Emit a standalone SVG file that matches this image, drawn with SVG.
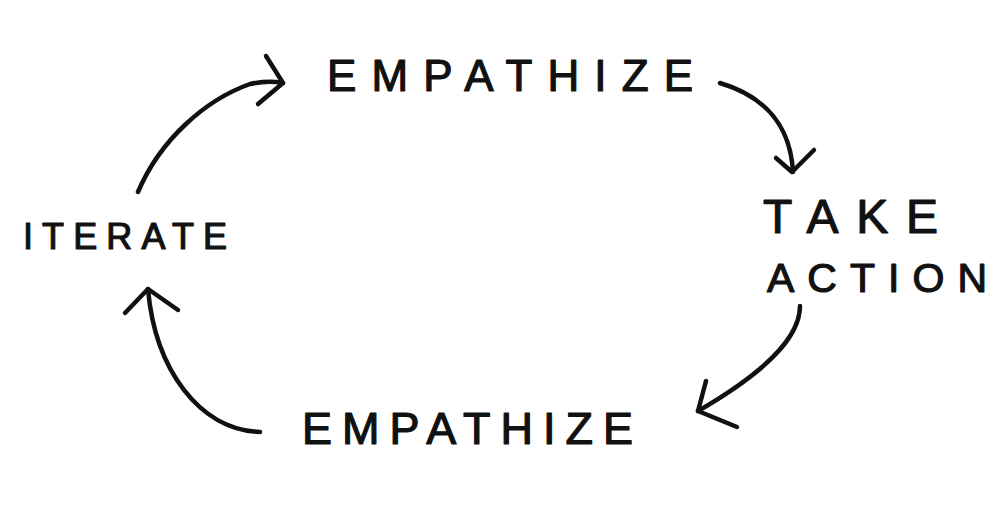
<svg xmlns="http://www.w3.org/2000/svg" width="1000" height="511" viewBox="0 0 1000 511">
  <style>
    .lbl { font-family: "Liberation Sans", "DejaVu Sans", sans-serif; fill: #111; stroke: #111; stroke-width: 1.2; stroke-linejoin: round; }
    .ln { fill: none; stroke: #111; stroke-width: 4.5; stroke-linecap: round; stroke-linejoin: round; }
  </style>
  <rect width="1000" height="511" fill="#ffffff"/>
  <g id="node-empathize-top">
    <text class="lbl" x="327" y="91" font-size="44" textLength="366" lengthAdjust="spacing">EMPATHIZE</text>
  </g>
  <g id="node-take-action">
    <text class="lbl" x="763" y="233" font-size="48" textLength="175" lengthAdjust="spacing">TAKE</text>
    <text class="lbl" x="767" y="292" font-size="41" textLength="220" lengthAdjust="spacing">ACTION</text>
  </g>
  <g id="node-empathize-bottom">
    <text class="lbl" x="302" y="444" font-size="45" textLength="331" lengthAdjust="spacing">EMPATHIZE</text>
  </g>
  <g id="node-iterate">
    <text class="lbl" x="23" y="249" font-size="36" textLength="204" lengthAdjust="spacing">ITERATE</text>
  </g>
  <g id="connectors">
    <path class="ln" d="M138 192 C 160 140, 205 100, 250 84 Q 268 80 283 83"/>
    <path class="ln" d="M266 56 L 283 83 L 258 104"/>
    <path class="ln" d="M720 83 C 760 95, 790 120, 793 172"/>
    <path class="ln" d="M776 158 L 792 172 L 814 150"/>
    <path class="ln" d="M800 306 C 800 340, 760 375, 698 411"/>
    <path class="ln" d="M706 381 L 698 411 L 737 427"/>
    <path class="ln" d="M260 432 C 200 430, 155 370, 148 289"/>
    <path class="ln" d="M125 313 L 148 289 L 178 310"/>
  </g>
</svg>
